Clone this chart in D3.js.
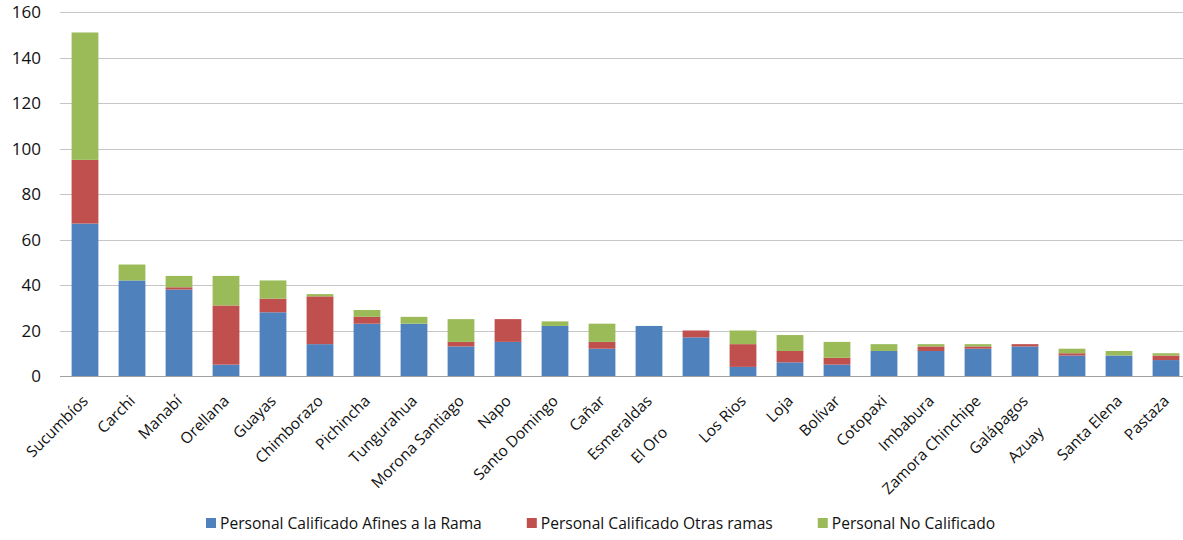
<!DOCTYPE html>
<html><head><meta charset="utf-8">
<script src="https://cdn.jsdelivr.net/npm/d3@7"></script>
<style>
html,body{margin:0;padding:0;background:#fff;overflow:hidden}
svg{display:block;font-family:"Open Sans",sans-serif}
.cat{white-space:pre}
</style></head>
<body>
<svg id="chart" width="1183" height="540"></svg>
<script>
const categories = ["Sucumbíos","Carchi","Manabí","Orellana","Guayas","Chimborazo","Pichincha","Tungurahua","Morona Santiago","Napo","Santo Domingo","Cañar","Esmeraldas","El Oro           ","Los Rios","Loja","Bolívar","Cotopaxi","Imbabura","Zamora Chinchipe","Galápagos","Azuay           ","Santa Elena","Pastaza"];
const afinesRama   = [67,42,38,5,28,14,23,23,13,15,22,12,22,17,4,6,5,11,11,12,13,9,9,7];
const otrasRamas   = [28,0,1,26,6,21,3,0,2,10,0,3,0,3,10,5,3,0,2,1,1,1,0,2];
const noCalificado = [56,7,5,13,8,1,3,3,10,0,2,8,0,0,6,7,7,3,1,1,0,2,2,1];
const seriesNames  = ["Personal Calificado Afines a la Rama","Personal Calificado Otras ramas","Personal No Calificado"];
const seriesColors = ["#4F81BD","#C0504D","#9BBB59"];
const yTicks = [0,20,40,60,80,100,120,140,160];

const svg = d3.select("#chart");
const keys = ["a","b","c"];
const rows = categories.map((c,i)=>({cat:c,a:afinesRama[i],b:otrasRamas[i],c:noCalificado[i]}));
const stack = d3.stack().keys(keys)(rows);

const x = d3.scaleBand().domain(categories).range([61.5,1189.5]).paddingInner(0.43).paddingOuter(0.215);
const y = d3.scaleLinear().domain([0,160]).range([376,12]);

// gridlines
svg.append("g").selectAll("line").data(yTicks.filter(t=>t>0)).join("line")
  .attr("x1",60).attr("x2",1183)
  .attr("y1",d=>Math.round(y(d))+0.5).attr("y2",d=>Math.round(y(d))+0.5)
  .attr("stroke","#c6c6c6").attr("stroke-width",1.2);

// bars
svg.append("g").selectAll("g").data(stack).join("g")
  .attr("fill",(d,i)=>seriesColors[i])
  .selectAll("rect").data(d=>d).join("rect")
  .attr("x",d=>x(d.data.cat))
  .attr("width",x.bandwidth())
  .attr("y",d=>y(d[1]))
  .attr("height",d=>y(d[0])-y(d[1]));

// baseline
svg.append("line").attr("x1",60).attr("x2",1183)
  .attr("y1",Math.round(y(0))+0.5).attr("y2",Math.round(y(0))+0.5)
  .attr("stroke","#a0a0a0").attr("stroke-width",1.2);

// y axis labels
const yAxis = d3.axisLeft(y).tickValues(yTicks).tickSize(0).tickPadding(0);
const ya = svg.append("g").attr("transform","translate(41,0)").call(yAxis);
ya.select(".domain").remove();
ya.selectAll("text").attr("font-size",17).attr("font-family","'Open Sans',sans-serif").attr("fill","#111").attr("dy","0.34em");

// x labels
const xAxis = d3.axisBottom(x).tickSize(0).tickPadding(0);
const xa = svg.append("g").call(xAxis);
xa.select(".domain").remove();
xa.selectAll(".tick").attr("transform",d=>`translate(${x(d)+x.bandwidth()/2+4},402)`);
xa.selectAll("text").attr("class","cat").attr("font-size",15.5).attr("font-family","'Open Sans',sans-serif")
  .attr("fill","#111").attr("text-anchor","end").attr("y",0).attr("dy",0).attr("transform","rotate(-45)");

// legend
const lg = svg.append("g");
let lx = 206;
seriesNames.forEach((n,i)=>{
  lg.append("rect").attr("x",lx).attr("y",518).attr("width",10).attr("height",10).attr("fill",seriesColors[i]);
  const t = lg.append("text").attr("x",lx+14).attr("y",523).attr("dy","0.36em")
    .attr("font-size",15.6).attr("fill","#111").text(n);
  lx += 14 + t.node().getComputedTextLength() + 45;
});
</script>
</body></html>
